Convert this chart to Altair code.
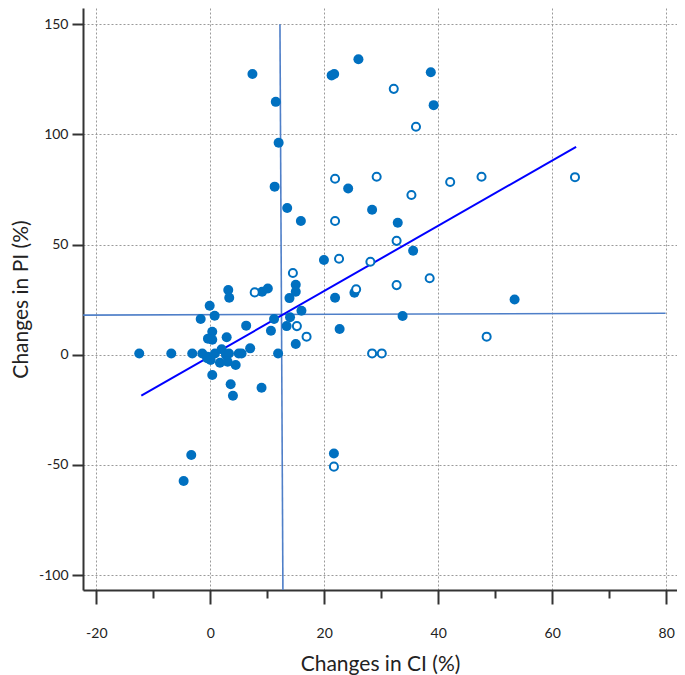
import altair as alt
import pandas as pd

# Filled points (Changes in CI %, Changes in PI %)
filled_x = [7.4, 11.5, 12.0, 11.3, 13.5, 15.9, 21.3, 21.75, 26.0, 38.7, 39.2, 24.2, 28.4, 32.9,
            35.6, 19.95, 25.3, 21.9, 53.4, 33.75, 16.0, 22.7, 15.0, 15.0, 13.9, 14.0, 13.4, 15.0,
            11.2, 10.65, 11.9, 9.1, 10.1, 3.16, 3.33, -0.1, 0.77, -1.68, 6.3, 0.35, -0.4, 0.35,
            2.88, 7.0, -12.46, -6.84, -3.16, -1.4, -0.46, 0.82, 2.0, 2.75, 3.28, 5.0, 5.5, -0.53,
            1.7, 3.05, 4.46, 0.35, 3.58, 3.98, 9.0, -3.33, -4.67, 21.7, 0.07]
filled_y = [127.4, 114.8, 96.2, 76.3, 66.6, 60.7, 126.8, 127.4, 134.1, 128.2, 113.3, 75.5, 65.8, 59.9,
            47.2, 43.0, 28.1, 25.9, 25.1, 17.6, 20.0, 11.7, 31.8, 28.6, 25.7, 17.0, 13.0, 4.9,
            16.2, 10.9, 0.6, 28.6, 30.1, 29.4, 25.9, 22.2, 17.7, 16.2, 13.2, 10.4, 7.3, 6.8,
            7.9, 2.9, 0.6, 0.6, 0.6, 0.6, -0.9, 0.6, 2.5, -0.1, 0.6, 0.6, 0.6, -1.6,
            -3.6, -3.2, -4.7, -9.2, -13.4, -18.6, -15.0, -45.5, -57.3, -44.8, -2.4]

# Open points
open_x = [32.2, 36.1, 21.9, 29.2, 35.3, 42.1, 47.6, 21.9, 32.7, 22.6, 28.1, 38.5, 32.7, 25.6,
          15.2, 16.9, 48.5, 28.4, 30.1, 14.5, 7.8, 21.7, 64.0]
open_y = [120.7, 103.5, 79.9, 80.8, 72.5, 78.4, 80.8, 60.7, 51.7, 43.6, 42.2, 34.7, 31.6, 29.7,
          13.0, 8.2, 8.2, 0.6, 0.6, 37.1, 28.3, -50.8, 80.6]

# Regression line end points
fit_x = [-12.1, 64.2]
fit_y = [-18.6, 94.4]

# Reference lines (start / end)
vref_x = [12.23, 12.75]
vref_y = [150, -106.8]
href_x = [-22.3, 79.9]
href_y = [18.0, 18.8]

x_ticks = [-20, -10, 0, 10, 20, 30, 40, 50, 60, 70, 80]
y_ticks = [-100, -50, 0, 50, 100, 150]

X_DOMAIN = [-22.33, 81.9]
Y_DOMAIN = [-106.8, 157.4]

BLUE = "#0070C0"
FONT = "Lato"

df_filled = pd.DataFrame({"x": filled_x, "y": filled_y})
df_open = pd.DataFrame({"x": open_x, "y": open_y})
df_fit = pd.DataFrame({"x": fit_x, "y": fit_y})
df_ref = pd.DataFrame({
    "x": [vref_x[0], href_x[0]], "x2": [vref_x[1], href_x[1]],
    "y": [vref_y[0], href_y[0]], "y2": [vref_y[1], href_y[1]],
})

x_scale = alt.Scale(domain=X_DOMAIN, nice=False, zero=False)
y_scale = alt.Scale(domain=Y_DOMAIN, nice=False, zero=False)

minor = "datum.value % 20 !== 0"
x_axis = alt.Axis(
    title="Changes in CI (%)",
    values=x_ticks,
    labelExpr="datum.value % 20 === 0 ? toString(datum.value) : ''",
    tickSize={"condition": {"test": minor, "value": 8}, "value": 14},
    gridOpacity={"condition": {"test": minor, "value": 0}, "value": 1},
    labelPadding=22,
    titlePadding=13,
)
y_axis = alt.Axis(
    title="Changes in PI (%)",
    values=y_ticks,
    labelExpr="toString(datum.value)",
    tickSize=11,
    labelPadding=4,
    titlePadding=7,
)

base_x = alt.X("x:Q", scale=x_scale, axis=x_axis)
base_y = alt.Y("y:Q", scale=y_scale, axis=y_axis)

refs = alt.Chart(df_ref).mark_rule(color="#4F7FC8", strokeWidth=1.6).encode(
    x=base_x, y=base_y, x2="x2:Q", y2="y2:Q"
)

fit = alt.Chart(df_fit).mark_line(color="#0000FF", strokeWidth=2).encode(
    x=alt.X("x:Q", scale=x_scale), y=alt.Y("y:Q", scale=y_scale)
)

pts_filled = alt.Chart(df_filled).mark_point(
    shape="circle", filled=True, color=BLUE, size=100, opacity=1
).encode(x=alt.X("x:Q", scale=x_scale), y=alt.Y("y:Q", scale=y_scale))

pts_open = alt.Chart(df_open).mark_point(
    shape="circle", filled=False, stroke=BLUE, fill="white", fillOpacity=1,
    strokeWidth=2, size=65, opacity=1
).encode(x=alt.X("x:Q", scale=x_scale), y=alt.Y("y:Q", scale=y_scale))

chart = alt.layer(refs, fit, pts_filled, pts_open).properties(
    width=594, height=582,
    autosize=alt.AutoSizeParams(type="none"),
    padding={"left": 75, "top": 0, "right": 0, "bottom": 85},
).configure_view(stroke=None).configure_axis(
    domainColor="#333333", domainWidth=2,
    tickColor="#333333", tickWidth=2,
    gridColor="#9a9a9a", gridDash=[2, 2], gridWidth=1,
    labelFont=FONT, labelFontSize=14, labelColor="#222222",
    titleFont=FONT, titleFontSize=21, titleFontWeight="normal", titleColor="#222222",
)

chart.save("out.html", embed_options={"renderer": "svg", "actions": False})
